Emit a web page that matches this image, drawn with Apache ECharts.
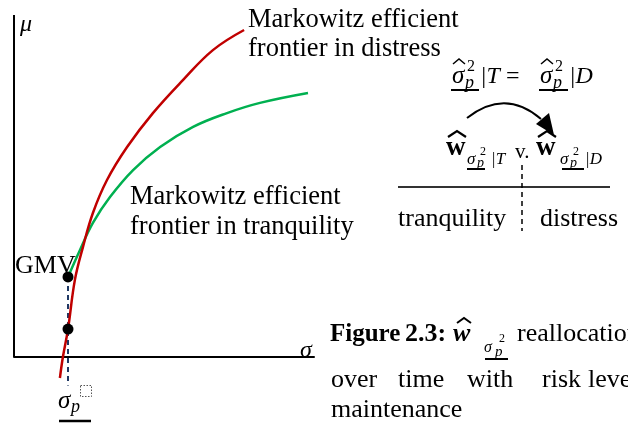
<!DOCTYPE html>
<html>
<head>
<meta charset="utf-8">
<script src="https://cdn.jsdelivr.net/npm/echarts@6/dist/echarts.min.js"></script>
<style>
  html, body { margin: 0; padding: 0; background: #fff; }
  #chart { width: 628px; height: 423px; }
</style>
</head>
<body>
<div id="chart"></div>
<script>
// Markowitz efficient frontier in distress (σ, μ)
const distressSigma = [1.53, 1.63, 1.80, 2.03, 2.30, 2.63, 3.10, 3.77, 4.63, 5.63, 6.63, 7.67];
const distressMu    = [-0.70, 0.00, 0.93, 2.57, 3.67, 4.80, 5.90, 7.00, 8.13, 9.23, 10.23, 10.90];

// Markowitz efficient frontier in tranquility (σ, μ), starting at the GMV portfolio
const tranqSigma = [1.80, 2.20, 2.63, 3.20, 3.97, 4.87, 5.97, 7.10, 8.20, 9.80];
const tranqMu    = [2.67, 3.57, 4.47, 5.33, 6.23, 7.00, 7.67, 8.13, 8.47, 8.80];

// GMV portfolio and the distress portfolio kept at the same risk level σ_p
const pointSigma = [1.80, 1.80];
const pointMu    = [2.67, 0.93];

// Dashed risk-level guide dropping from GMV to the σ_p label
const guideSigma = [1.80, 1.80];
const guideMu    = [2.67, -0.95];

// Axis extents and the μ axis line
const sigmaRange = [0, 10];
const muRange    = [-1.4, 11.4];
const muAxisSigma = [0, 0];
const muAxisMu    = [0, 11.4];

const zip = (xs, ys) => xs.map((x, i) => [x, ys[i]]);

const SERIF = '"Liberation Serif", "Times New Roman", serif';
const BLACK = '#000';

// Text placed by its alphabetic baseline
function txt(x, base, text, size, style) {
  return {
    type: 'text', silent: true, z: 10,
    x: x, y: base - 0.23 * size,
    style: {
      text: text,
      font: (style || '') + ' ' + size + 'px ' + SERIF,
      fill: BLACK,
      align: 'left', verticalAlign: 'middle',
      textAlign: 'left', textVerticalAlign: 'middle'
    }
  };
}
function seg(x1, y1, x2, y2, width, dash, color) {
  return {
    type: 'line', silent: true, z: 10,
    shape: { x1: x1, y1: y1, x2: x2, y2: y2 },
    style: { stroke: color || BLACK, lineWidth: width, lineDash: dash || null }
  };
}
function hat(x, y, w, h, width) {
  return {
    type: 'polyline', silent: true, z: 10,
    shape: { points: [[x, y + h], [x + w / 2, y], [x + w, y + h]] },
    style: { stroke: BLACK, lineWidth: width, fill: null }
  };
}

const graphics = [
  // axis names
  txt(20, 30, 'μ', 24, 'italic'),
  txt(300, 356, 'σ', 24, 'italic'),

  // frontier labels
  txt(248, 26, 'Markowitz efficient', 26.5),
  txt(248, 55, 'frontier in distress', 26.5),
  txt(130, 203, 'Markowitz efficient', 26.5),
  txt(130, 233, 'frontier in tranquility', 26.5),
  txt(15, 272, 'GMV', 26),

  // σ_p label under the guide
  txt(58, 407, 'σ', 25, 'italic'),
  txt(71, 411, 'p', 18, 'italic'),
  {
    type: 'rect', silent: true, z: 10,
    shape: { x: 80.5, y: 385.5, width: 11, height: 11 },
    style: { fill: null, stroke: '#555', lineWidth: 1, lineDash: [1.5, 1.5] }
  },
  seg(59, 421, 91, 421, 2.5),

  // σ̂²_p|T = σ̂²_p|D
  txt(452, 82, 'σ', 25, 'italic'),
  hat(453, 59, 12, 5, 1.5),
  txt(467, 70, '2', 16),
  txt(465, 87, 'p', 18, 'italic'),
  seg(451, 90, 479, 90, 2),
  txt(480, 82, '|T', 24, 'italic'),
  txt(506, 82, '=', 24),
  txt(540, 82, 'σ', 25, 'italic'),
  hat(541, 59, 12, 5, 1.5),
  txt(555, 70, '2', 16),
  txt(553, 87, 'p', 18, 'italic'),
  seg(539, 90, 568, 90, 2),
  txt(569, 82, '|D', 24, 'italic'),

  // reallocation arrow
  {
    type: 'bezierCurve', silent: true, z: 10,
    shape: { x1: 467, y1: 118, cpx1: 505, cpy1: 88, x2: 541, y2: 119 },
    style: { stroke: BLACK, lineWidth: 2, fill: null }
  },
  {
    type: 'polygon', silent: true, z: 10,
    shape: { points: [[554, 135], [536, 124], [549, 113]] },
    style: { fill: BLACK }
  },

  // ŵ_{σ²_p|T} v. ŵ_{σ²_p|D}
  txt(446, 154, 'w', 27, 'bold'),
  hat(448, 131, 18, 6, 2.2),
  txt(467, 163, 'σ', 17, 'italic'),
  txt(480, 155, '2', 12),
  txt(477, 167, 'p', 14, 'italic'),
  seg(467, 169, 485, 169, 2),
  txt(491, 163, '|T', 17, 'italic'),
  txt(515, 157, 'v.', 21),
  txt(536, 154, 'w', 27, 'bold'),
  hat(538, 131, 18, 6, 2.2),
  txt(560, 163, 'σ', 17, 'italic'),
  txt(573, 155, '2', 12),
  txt(570, 167, 'p', 14, 'italic'),
  seg(562, 169, 584, 169, 2),
  txt(585, 163, '|D', 17, 'italic'),

  // regime split
  seg(398, 187, 610, 187, 2, null, '#333'),
  seg(522, 165, 522, 231, 1.5, [5, 4]),
  txt(398, 225, 'tranquility', 26),
  txt(540, 225, 'distress', 26),

  // caption
  txt(330, 340, 'Figure', 25, 'bold'),
  txt(405, 340, '2.3:', 26, 'bold'),
  txt(453, 340, 'w', 26, 'bold italic'),
  hat(457, 318, 14, 5, 2),
  txt(484, 351, 'σ', 16, 'italic'),
  txt(499, 342, '2', 12),
  txt(495, 356, 'p', 15, 'italic'),
  seg(485, 359, 508, 359, 2),
  txt(517, 340, 'reallocation', 26),
  txt(331, 386, 'over', 26),
  txt(398, 386, 'time', 26),
  txt(467, 386, 'with', 26),
  txt(542, 386, 'risk', 26),
  txt(588, 386, 'level', 26),
  txt(331, 416, 'maintenance', 26)
];

const chart = echarts.init(document.getElementById('chart'), null, { renderer: 'canvas' });
chart.setOption({
  animation: false,
  backgroundColor: '#fff',
  grid: { left: 14, top: 15, width: 300, height: 384, containLabel: false },
  xAxis: {
    type: 'value', min: sigmaRange[0], max: sigmaRange[1],
    axisLine: { show: true, onZero: true, lineStyle: { color: BLACK, width: 2 } },
    axisTick: { show: false }, axisLabel: { show: false }, splitLine: { show: false }
  },
  yAxis: {
    type: 'value', min: muRange[0], max: muRange[1],
    axisLine: { show: false }, axisTick: { show: false },
    axisLabel: { show: false }, splitLine: { show: false }
  },
  series: [
    {
      name: 'μ axis', type: 'line', data: zip(muAxisSigma, muAxisMu),
      symbol: 'none', lineStyle: { color: BLACK, width: 2 }, clip: false, z: 1
    },
    {
      name: 'guide', type: 'line', data: zip(guideSigma, guideMu),
      symbol: 'none', lineStyle: { color: '#1f3864', width: 2, type: [5, 4] }, z: 2
    },
    {
      name: 'tranquility', type: 'line', data: zip(tranqSigma, tranqMu),
      symbol: 'none', smooth: 0.4, lineStyle: { color: '#00b050', width: 2.5 }, z: 3
    },
    {
      name: 'distress', type: 'line', data: zip(distressSigma, distressMu),
      symbol: 'none', smooth: 0.4, lineStyle: { color: '#c00000', width: 2.5 }, z: 4
    },
    {
      name: 'portfolios', type: 'scatter', data: zip(pointSigma, pointMu),
      symbol: 'circle', symbolSize: 11, itemStyle: { color: BLACK, opacity: 1 }, z: 5
    }
  ],
  graphic: graphics
});
</script>
</body>
</html>
